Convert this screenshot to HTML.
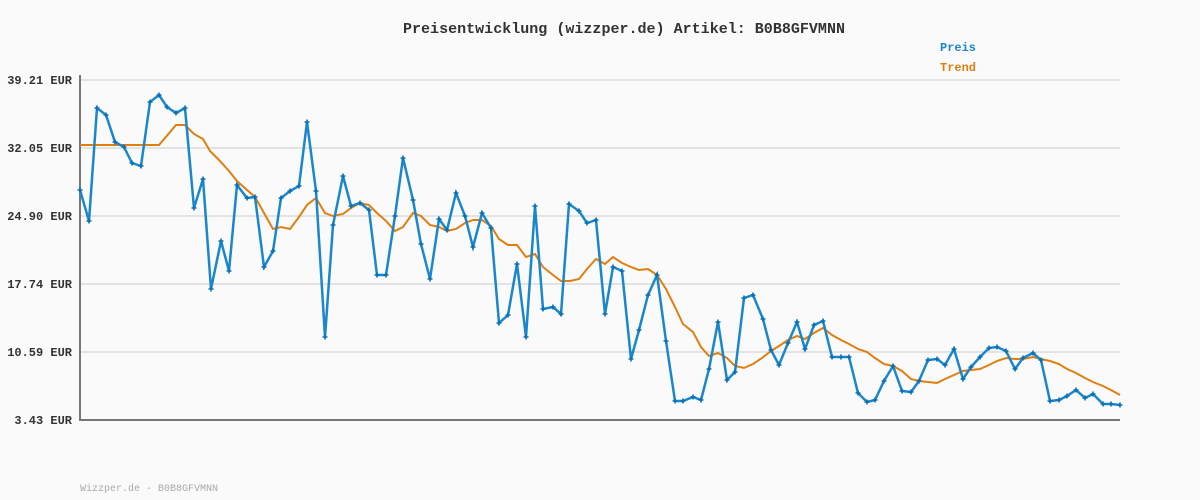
<!DOCTYPE html>
<html><head><meta charset="utf-8"><style>
html,body{margin:0;padding:0;background:#fafafa;}
svg{display:block;}
text{font-family:"Liberation Mono","DejaVu Sans Mono",monospace;}
</style></head><body>
<svg width="1200" height="500" viewBox="0 0 1200 500" xmlns="http://www.w3.org/2000/svg">
<rect width="1200" height="500" fill="#fafafa"/>
<text x="624" y="33" text-anchor="middle" font-size="15" font-weight="bold" fill="#333" textLength="442" lengthAdjust="spacingAndGlyphs">Preisentwicklung (wizzper.de) Artikel: B0B8GFVMNN</text>
<text x="940" y="51" font-size="12" font-weight="bold" fill="#1a87cc">Preis</text>
<text x="940" y="71" font-size="12" font-weight="bold" fill="#e07f10">Trend</text>
<g stroke="#e3e3e3" stroke-width="2">
<line x1="80" y1="80" x2="1120" y2="80"/><line x1="80" y1="148" x2="1120" y2="148"/><line x1="80" y1="216" x2="1120" y2="216"/><line x1="80" y1="284" x2="1120" y2="284"/><line x1="80" y1="352" x2="1120" y2="352"/>
</g>
<g font-size="12" font-weight="bold" fill="#333" text-anchor="end">
<text x="72" y="84">39.21 EUR</text><text x="72" y="152">32.05 EUR</text><text x="72" y="220">24.90 EUR</text><text x="72" y="288">17.74 EUR</text><text x="72" y="356">10.59 EUR</text><text x="72" y="424">3.43 EUR</text>
</g>
<line x1="80" y1="75" x2="80" y2="421" stroke="#777" stroke-width="2"/>
<line x1="79" y1="420" x2="1120" y2="420" stroke="#777" stroke-width="2"/>
<polyline fill="none" stroke="#e07f10" stroke-width="2" points="80,145 159,145 176,125 185,125 194,134 203,139 210,151 219,160 229,171 237,181 247,190 255,197 264,213 273,229 281,227 290,229 299,217 307,205 316,198 325,213 333,216 343,214 351,208 360,203 369,205 377,213 386,221 395,231 403,227 413,213 421,216 430,225 439,227 447,231 456,229 465,223 473,220 482,220 491,226 499,239 508,245 517,245 526,257 535,254 543,267 553,275 561,281 570,281 579,279 587,269 596,259 605,264 613,257 622,263 631,267 639,270 648,269 657,275 666,289 675,307 683,324 693,332 701,347 709,356 718,353 727,358 735,366 744,368 753,364 762,358 771,351 779,346 788,340 797,336 805,339 814,333 823,328 832,335 841,340 849,344 858,349 867,352 875,358 884,364 893,366 902,371 911,379 919,381 928,382 937,383 945,379 954,375 963,371 971,370 980,369 989,365 997,361 1006,358 1015,359 1023,359 1033,357 1041,359 1050,361 1059,364 1067,369 1076,373 1085,378 1093,382 1103,386 1111,390 1120,395"/>
<polyline id="p" fill="none" stroke="#1a87cc" stroke-width="2.5" points="80,190 89,221 97,108 106,115 115,142 124,147 132,163 141,166 150,102 159,95 167,107 176,113 185,108 194,208 203,179 211,289 221,241 229,271 237,185 247,198 255,197 264,267 273,251 281,198 290,191 299,186 307,122 316,191 325,337 333,225 343,176 351,206 360,203 369,210 377,275 386,275 395,216 403,158 413,200 421,244 430,279 439,219 447,230 456,193 465,216 473,247 482,213 491,228 499,323 508,315 517,264 526,337 535,206 543,309 553,307 561,314 569,204 579,211 587,223 596,220 605,314 613,267 622,271 631,359 639,330 648,295 657,275 666,341 675,401 683,401 693,397 701,400 709,369 718,322 727,380 735,372 744,298 753,295 763,319 771,350 779,365 788,343 797,322 805,349 814,325 823,321 832,357 841,357 849,357 858,393 867,402 875,400 884,381 893,366 902,391 911,392 919,381 928,360 937,359 945,365 954,349 963,379 971,367 980,357 989,348 997,347 1006,351 1015,369 1023,358 1033,353 1041,360 1050,401 1059,400 1067,396 1076,390 1085,398 1093,394 1103,404 1111,404 1120,405"/>
<text x="80" y="491" font-size="10" fill="#aaa" textLength="138" lengthAdjust="spacingAndGlyphs">Wizzper.de - B0B8GFVMNN</text>
</svg>
<script>
(function(){var p=document.getElementById('p');var pts=p.getAttribute('points').trim().split(/\s+/);var s='';pts.forEach(function(q){var c=q.split(',');s+='<path d="M'+(c[0]-2.5)+' '+c[1]+'h5M'+c[0]+' '+(c[1]-2.5)+'v5" stroke="#0a6fb5" stroke-width="1.6"/>';});p.insertAdjacentHTML('afterend',s);})();
</script>
</body></html>
